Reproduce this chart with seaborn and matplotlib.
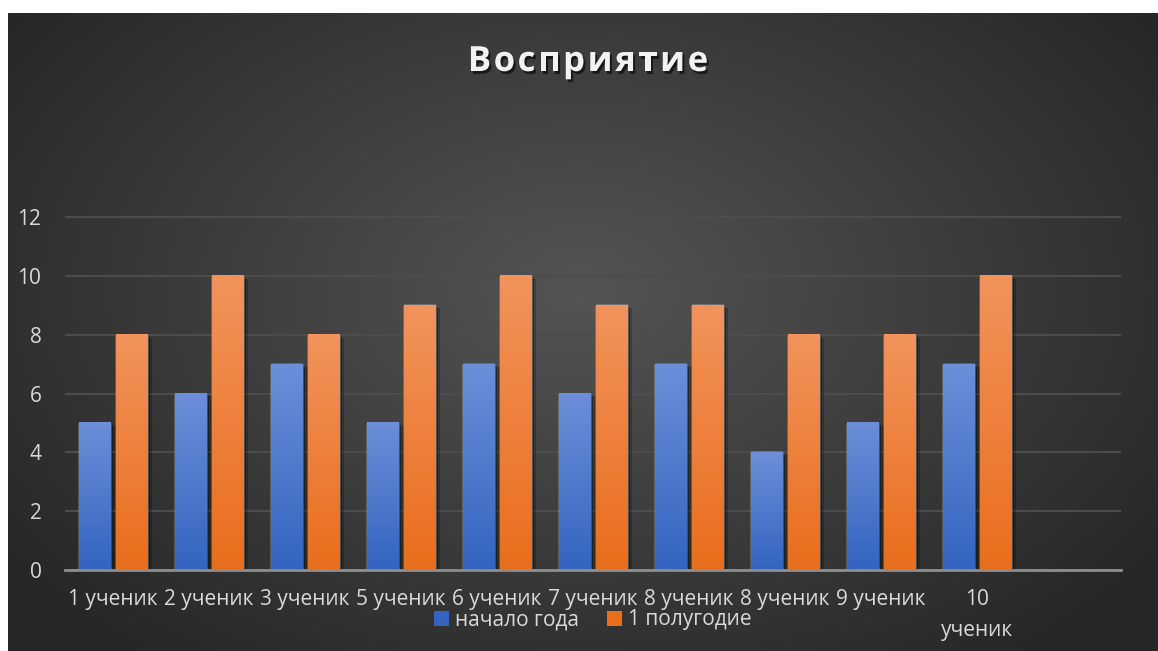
import numpy as np
import pandas as pd
import matplotlib
matplotlib.use("Agg")
import matplotlib.pyplot as plt
import matplotlib.patheffects as pe
from matplotlib.patches import Patch
import seaborn as sns

# chart data
students = ["1 ученик", "2 ученик", "3 ученик", "5 ученик", "6 ученик",
            "7 ученик", "8 ученик", "8 ученик", "9 ученик", "10\nученик"]
start_year = [5, 6, 7, 5, 7, 6, 7, 4, 5, 7]
half_year = [8, 10, 8, 9, 10, 9, 9, 8, 8, 10]
series_names = ["начало года", "1 полугодие"]
title = "Восприятие"

# duplicate names ("8 ученик") -> use slot index as the category key
keys = [str(i) for i in range(len(students))]
df = pd.DataFrame({
    "slot": keys * 2,
    "value": start_year + half_year,
    "series": [series_names[0]] * len(keys) + [series_names[1]] * len(keys),
})

sns.set_theme(style="dark")
plt.rcParams["font.family"] = ["Open Sans", "DejaVu Sans"]

W, H = 1158, 651
fig = plt.figure(figsize=(W / 100, H / 100), dpi=100)
fig.patch.set_facecolor("white")

# radial dark background with white margin
bg_ax = fig.add_axes([0, 0, 1, 1], zorder=-5)
yy, xx = np.mgrid[0:H, 0:W]
r = np.sqrt(((xx - 580) / 720.0) ** 2 + ((yy - 290) / 470.0) ** 2)
v = 0.33 - 0.18 * np.clip(r, 0, 1)
img = np.dstack([v, v, v])
img[:13, :, :] = 1.0
img[:, :8, :] = 1.0
bg_ax.imshow(img, aspect="auto", interpolation="bilinear")
bg_ax.set_axis_off()

ax = fig.add_axes([65 / W, 1 - 570 / H, (1121 - 65) / W, (570 - 216) / H])
ax.set_facecolor("none")

blue_cols = ("#6b8fd8", "#3464c0")
orange_cols = ("#f2935c", "#e96e1c")

sns.barplot(data=df, x="slot", y="value", hue="series", order=keys + ["x"],
            palette=[blue_cols[1], orange_cols[1]], width=0.76, gap=0.15,
            ax=ax, legend=False, zorder=2)

# gradient fill + soft shadow on each bar
for i, bar in enumerate(ax.patches):
    x0, y0 = bar.get_x(), bar.get_y()
    w, h = bar.get_width(), bar.get_height()
    if h == 0 or np.isnan(h):
        continue
    top, bot = blue_cols if i < len(keys) else orange_cols
    c_top = np.array(matplotlib.colors.to_rgb(top))
    c_bot = np.array(matplotlib.colors.to_rgb(bot))
    t = np.linspace(0, 1, 64)[:, None]
    grad = (c_top * (1 - t) + c_bot * t)[:, None, :]
    bar.set_path_effects([pe.SimplePatchShadow(offset=(4, -2), shadow_rgbFace="black", alpha=0.22),
                          pe.SimplePatchShadow(offset=(2, -1), shadow_rgbFace="black", alpha=0.25),
                          pe.Normal()])
    ax.imshow(grad, extent=(x0, x0 + w, y0, y0 + h), aspect="auto",
              interpolation="bilinear", zorder=3)

ax.set_xlim(-0.5, len(keys) + 0.5)
ax.set_ylim(0, 12.04)
ax.set_yticks(range(0, 13, 2))
ax.set_xticks(range(len(keys)))
ax.set_xticklabels(students)
for lbl in ax.get_xticklabels():
    lbl.set_linespacing(1.6)
ax.set_xlabel("")
ax.set_ylabel("")

ax.grid(axis="y", color="#4c4c4c", linewidth=1.5, zorder=0)
ax.grid(axis="x", visible=False)
for s in ["top", "right", "left"]:
    ax.spines[s].set_visible(False)
ax.spines["bottom"].set_color("#8e8e8e")
ax.spines["bottom"].set_linewidth(2)
ax.spines["bottom"].set_zorder(4)
ax.tick_params(axis="both", length=0, labelsize=15, colors="#d9d9d9")
ax.tick_params(axis="y", pad=17)
ax.tick_params(axis="x", pad=14)

# title with letter spacing: place characters one by one
renderer = fig.canvas.get_renderer()
title_kw = dict(fontsize=25, fontweight="bold", color="#f2f2f2", va="center", ha="left",
                path_effects=[pe.withSimplePatchShadow(offset=(1.5, -2), shadow_rgbFace="black", alpha=0.6)])
spacing = 2.5
widths = []
for ch in title:
    t_ = fig.text(0, 0, ch, **title_kw)
    widths.append(t_.get_window_extent(renderer).width)
    t_.remove()
total = sum(widths) + spacing * (len(title) - 1)
xpos = 588 - total / 2
for ch, w in zip(title, widths):
    fig.text(xpos / W, 1 - 62 / H, ch, **title_kw)
    xpos += w + spacing

handles = [Patch(facecolor=blue_cols[1], edgecolor="none"),
           Patch(facecolor=orange_cols[1], edgecolor="none")]
leg = fig.legend(handles, series_names, loc="center", bbox_to_anchor=(593 / W, 1 - 620 / H),
                 ncol=2, frameon=False, fontsize=15, handlelength=0.7, handleheight=0.7,
                 handletextpad=0.3, columnspacing=1.35, borderpad=0)
for txt in leg.get_texts():
    txt.set_color("#d9d9d9")

fig.savefig("out.png", dpi=100)
